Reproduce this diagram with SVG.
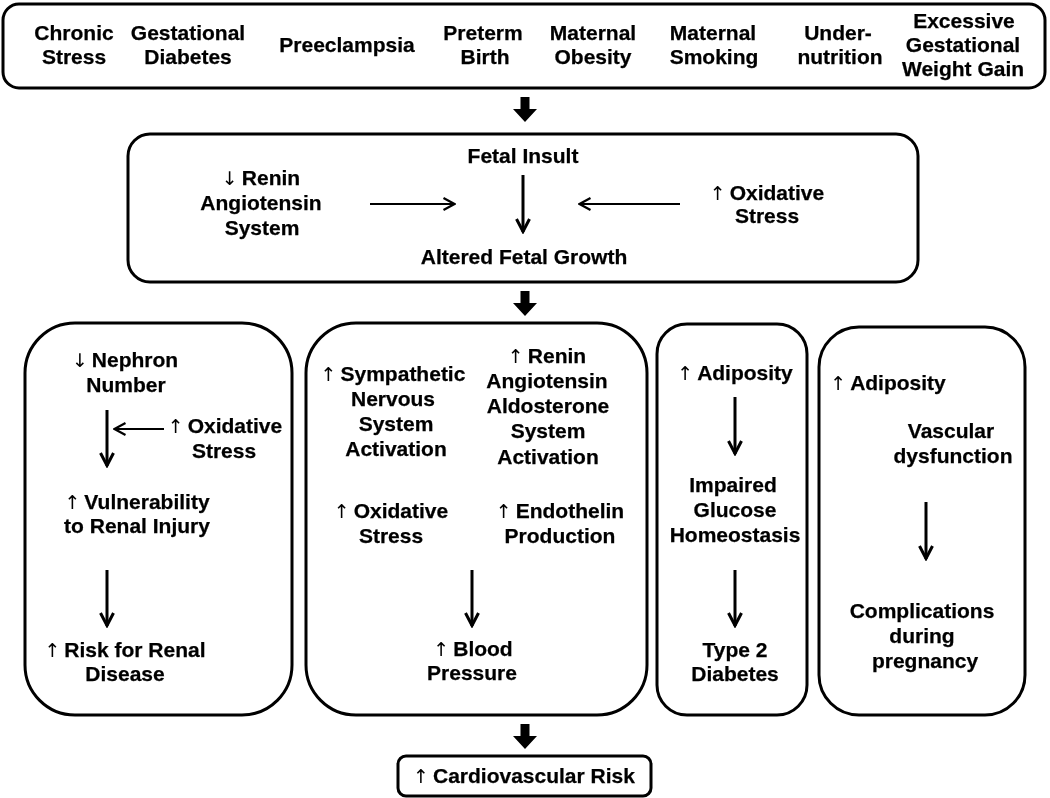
<svg xmlns="http://www.w3.org/2000/svg" width="1050" height="798" viewBox="0 0 1050 798">
<style>
.box{fill:#fff;stroke:#000;stroke-width:3}
.t{font-family:"Liberation Sans",Arial,sans-serif;font-weight:bold;font-size:21px;fill:#000;stroke:#000;stroke-width:0.25;text-anchor:middle;will-change:transform}
.ar{font-family:"DejaVu Sans",sans-serif;font-weight:normal;font-size:19px;stroke-width:0}
.ln{stroke:#000;stroke-width:3;fill:none}
.lh{stroke:#000;stroke-width:2;fill:none}
.blk{fill:#000}
</style>
<defs>
<marker id="ah" viewBox="0 0 16 16" refX="14.5" refY="8" markerWidth="16" markerHeight="16" orient="auto" markerUnits="userSpaceOnUse">
<path d="M1.5,1.5 L14,8 L1.5,14.5" fill="none" stroke="#000" stroke-width="3"/>
</marker>
<marker id="ahs" viewBox="0 0 14 14" refX="13" refY="7" markerWidth="14" markerHeight="14" orient="auto" markerUnits="userSpaceOnUse">
<path d="M1.5,1 L12.5,7 L1.5,13" fill="none" stroke="#000" stroke-width="2.2"/>
</marker>
<path id="bigarrow" d="M-4.5,0 H4.5 V12 H12 L0,25 L-12,12 H-4.5 Z"/>
</defs>

<g id="causes">
<rect class="box" x="3" y="4" width="1042" height="84" rx="16"/>
<text class="t" x="74" y="40">Chronic<tspan x="74" dy="24">Stress</tspan></text>
<text class="t" x="188" y="40">Gestational<tspan x="188" dy="24">Diabetes</tspan></text>
<text class="t" x="347" y="52">Preeclampsia</text>
<text class="t" x="483" y="40">Preterm<tspan x="485" dy="24">Birth</tspan></text>
<text class="t" x="593" y="40">Maternal<tspan x="593" dy="24">Obesity</tspan></text>
<text class="t" x="713" y="40">Maternal<tspan x="714" dy="24">Smoking</tspan></text>
<text class="t" x="838" y="40">Under-<tspan x="840" dy="24">nutrition</tspan></text>
<text class="t" x="964" y="28">Excessive<tspan x="963" dy="24">Gestational</tspan><tspan x="963" dy="24">Weight Gain</tspan></text>
</g>

<g id="fetal">
<rect class="box" x="128" y="134" width="790" height="148" rx="22"/>
<text class="t" x="523" y="163">Fetal Insult</text>
<text class="t" x="524" y="264">Altered Fetal Growth</text>
<text class="t" x="261" y="185"><tspan class="ar">↓</tspan><tspan dx="4">Renin</tspan><tspan x="261" dy="25">Angiotensin</tspan><tspan x="262" dy="25">System</tspan></text>
<text class="t" x="767" y="200"><tspan class="ar">↑</tspan><tspan dx="4">Oxidative</tspan><tspan x="767" dy="23">Stress</tspan></text>
</g>

<g id="renal">
<rect class="box" x="25" y="323" width="267" height="392" rx="50"/>
<text class="t" x="125" y="367"><tspan class="ar">↓</tspan><tspan dx="4">Nephron</tspan><tspan x="126" dy="25">Number</tspan></text>
<text class="t" x="225" y="433"><tspan class="ar">↑</tspan><tspan dx="4">Oxidative</tspan><tspan x="224" dy="25">Stress</tspan></text>
<text class="t" x="137" y="509"><tspan class="ar">↑</tspan><tspan dx="4">Vulnerability</tspan><tspan x="137" dy="24">to Renal Injury</tspan></text>
<text class="t" x="125" y="657"><tspan class="ar">↑</tspan><tspan dx="4">Risk for Renal</tspan><tspan x="125" dy="24">Disease</tspan></text>
</g>

<g id="bp">
<rect class="box" x="306" y="323" width="341" height="392" rx="50"/>
<text class="t" x="393" y="381"><tspan class="ar">↑</tspan><tspan dx="4">Sympathetic</tspan><tspan x="393" dy="25">Nervous</tspan><tspan x="396" dy="25">System</tspan><tspan x="396" dy="25">Activation</tspan></text>
<text class="t" x="547" y="363"><tspan class="ar">↑</tspan><tspan dx="4">Renin</tspan><tspan x="547" dy="25">Angiotensin</tspan><tspan x="548" dy="25">Aldosterone</tspan><tspan x="548" dy="25">System</tspan><tspan x="548" dy="26">Activation</tspan></text>
<text class="t" x="391" y="518"><tspan class="ar">↑</tspan><tspan dx="4">Oxidative</tspan><tspan x="391" dy="25">Stress</tspan></text>
<text class="t" x="560" y="518"><tspan class="ar">↑</tspan><tspan dx="4">Endothelin</tspan><tspan x="560" dy="25">Production</tspan></text>
<text class="t" x="473" y="656"><tspan class="ar">↑</tspan><tspan dx="4">Blood</tspan><tspan x="472" dy="24">Pressure</tspan></text>
</g>

<g id="diabetes">
<rect class="box" x="657" y="324" width="150" height="391" rx="30"/>
<text class="t" x="735" y="380"><tspan class="ar">↑</tspan><tspan dx="4">Adiposity</tspan></text>
<text class="t" x="733" y="492">Impaired<tspan x="735" dy="25">Glucose</tspan><tspan x="735" dy="25">Homeostasis</tspan></text>
<text class="t" x="735" y="657">Type 2<tspan x="735" dy="24">Diabetes</tspan></text>
</g>

<g id="pregnancy">
<rect class="box" x="819" y="327" width="206" height="388" rx="40"/>
<text class="t" x="888" y="390"><tspan class="ar">↑</tspan><tspan dx="4">Adiposity</tspan></text>
<text class="t" x="951" y="438">Vascular<tspan x="953" dy="25">dysfunction</tspan></text>
<text class="t" x="922" y="618">Complications<tspan x="922" dy="25">during</tspan><tspan x="925" dy="25">pregnancy</tspan></text>
</g>

<g id="outcome">
<rect class="box" x="398" y="756" width="253" height="40" rx="8"/>
<text class="t" x="524" y="783"><tspan class="ar">↑</tspan><tspan dx="4">Cardiovascular Risk</tspan></text>
</g>

<g id="connectors">
<use href="#bigarrow" class="blk" x="525" y="97"/>
<use href="#bigarrow" class="blk" x="525" y="291"/>
<use href="#bigarrow" class="blk" x="525" y="724"/>
<line class="ln" x1="523" y1="175" x2="523" y2="232" marker-end="url(#ah)"/>
<line class="lh" x1="370" y1="204" x2="455" y2="204" marker-end="url(#ahs)"/>
<line class="lh" x1="680" y1="204" x2="579" y2="204" marker-end="url(#ahs)"/>
<line class="ln" x1="107" y1="410" x2="107" y2="466" marker-end="url(#ah)"/>
<line class="lh" x1="164" y1="429" x2="114" y2="429" stroke-width="2.5" marker-end="url(#ahs)"/>
<line class="ln" x1="107" y1="570" x2="107" y2="626" marker-end="url(#ah)"/>
<line class="ln" x1="472" y1="570" x2="472" y2="626" marker-end="url(#ah)"/>
<line class="ln" x1="735" y1="397" x2="735" y2="454" marker-end="url(#ah)"/>
<line class="ln" x1="735" y1="570" x2="735" y2="626" marker-end="url(#ah)"/>
<line class="ln" x1="926" y1="502" x2="926" y2="559" marker-end="url(#ah)"/>
</g>
</svg>
